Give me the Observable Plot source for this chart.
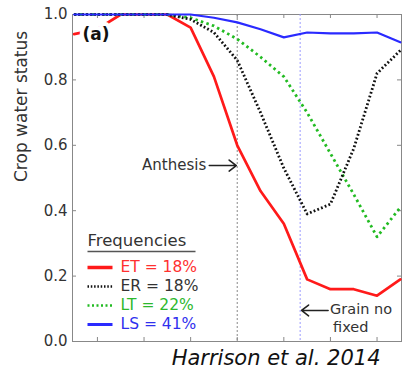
<!DOCTYPE html>
<html><head><meta charset="utf-8">
<script src="https://cdn.jsdelivr.net/npm/d3@7"></script>
<script src="https://cdn.jsdelivr.net/npm/@observablehq/plot@0.6"></script>
<style>body{margin:0;background:#fff} svg{display:block}</style>
</head><body><div id="chart"></div>
<script>
// ---- data ----
const steps = [0,1,2,3,4,5,6,7,8,9,10,11,12,13,14];
const ET = [0.94,0.955,1.0,1.0,1.0,0.96,0.81,0.60,0.46,0.36,0.19,0.16,0.16,0.14,0.19];
const ER = [1.0,1.0,1.0,1.0,1.0,0.985,0.945,0.86,0.70,0.53,0.39,0.42,0.59,0.82,0.89];
const LT = [1.0,1.0,1.0,1.0,1.0,0.99,0.965,0.925,0.87,0.81,0.70,0.575,0.45,0.32,0.41];
const LS = [1.0,1.0,1.0,1.0,1.0,1.0,0.99,0.976,0.955,0.93,0.945,0.942,0.942,0.945,0.915];
const seriesNames = ["ET","ER","LT","LS"];
const frequencies = ["18%","18%","22%","41%"];
const yTicks = [0,0.2,0.4,0.6,0.8,1.0];
const xTicks = [1,3,5,7,9,11,13];
const anthesis = {text:"Anthesis", step:7, from:5.8, y:0.538};
const grain = {lines:["Grain no","fixed"], step:9.7, from:10.9, y:0.095};

// ---- styles ----
const styles = {
  ET:{stroke:"#ff1a1a", strokeWidth:2.7, dash:null, text:"#ff3030", lw:3.5},
  ER:{stroke:"#111111", strokeWidth:2.8, dash:"1.8,2.2", text:"#333333", lw:2.5},
  LT:{stroke:"#22bb22", strokeWidth:2.8, dash:"2.5,3.3", text:"#2db82d", lw:2.5},
  LS:{stroke:"#2a2aff", strokeWidth:2.2, dash:null, text:"#3030ee", lw:3}
};
const values = {ET, ER, LT, LS};
const rows = seriesNames.flatMap(name => steps.map((s,i) => ({series:name, step:s, value:values[name][i]})));

const X_DOMAIN = [-0.07, 14.05];
const ML = 72, MR = 2, W = 403;
const px2x = p => X_DOMAIN[0] + (p - ML) / (W - ML - MR) * (X_DOMAIN[1] - X_DOMAIN[0]);
const MT = 14, MB = 41, H = 382;
const py2y = p => (H - MB - p) / (H - MB - MT);

// legend layout (pixels)
const legX1 = px2x(87), legX2 = px2x(112), legTextX = px2x(120);
const legRows = seriesNames.map((name,i) => ({name, label:`${name} = ${frequencies[i]}`, y:py2y(267 + i*19)}));

const lineOrder = ["ET","LT","ER","LS"];

const plot = Plot.plot({
  width: W, height: H, marginLeft: ML, marginRight: MR, marginTop: MT, marginBottom: MB,
  style: {fontFamily: "DejaVu Sans, sans-serif", background: "#fff", overflow: "visible"},
  x: {domain: X_DOMAIN, axis: null},
  y: {domain: [0, 1], axis: null},
  marks: [
    Plot.frame({stroke: "#888"}),
    Plot.tickY(yTicks, {y: d => d, stroke: "#888", insetRight: 325}),
    Plot.tickY(yTicks, {y: d => d, stroke: "#888", insetLeft: 325}),
    Plot.tickX(xTicks, {x: d => d, stroke: "#888", insetTop: 323}),
    Plot.tickX(xTicks, {x: d => d, stroke: "#888", insetBottom: 323}),
    Plot.axisY(yTicks, {tickSize: 0, tickPadding: 5, tickFormat: d3.format(".1f"), fontSize: 15, color: "#333", label: null}),
    Plot.text(["Crop water status"], {frameAnchor: "left", rotate: -90, dx: -51, dy: 4, fontSize: 17, fill: "#333"}),
    Plot.ruleX([anthesis], {x: "step", stroke: "#888", strokeDasharray: "2,2"}),
    Plot.ruleX([grain], {x: "step", stroke: "#9a9aff", strokeDasharray: "2,2"}),
    ...lineOrder.map(name => Plot.line(rows.filter(d => d.series === name), {
      x: "step", y: "value", stroke: styles[name].stroke, strokeWidth: styles[name].strokeWidth,
      strokeDasharray: styles[name].dash, strokeLinejoin: "round", strokeLinecap: styles[name].dash ? "butt" : "round"
    })),
    Plot.text(["(a)"], {frameAnchor: "top-left", dx: 10, dy: 20, textAnchor: "start", lineAnchor: "middle", fontWeight: "bold", fontSize: 17, fill: "#111", stroke: "white", strokeWidth: 8}),
    // annotations
    Plot.arrow([anthesis], {x1: "from", x2: d => d.step - 0.04, y1: "y", y2: "y", stroke: "#222", strokeWidth: 1.6, headLength: 9, headAngle: 75}),
    Plot.text([anthesis], {x: "from", y: "y", text: "text", textAnchor: "end", dx: -3, fontSize: 15, fill: "#333"}),
    Plot.arrow([grain], {x1: "from", x2: d => d.step + 0.06, y1: "y", y2: "y", stroke: "#222", strokeWidth: 1.6, headLength: 9, headAngle: 75}),
    Plot.text([grain], {x: "from", y: "y", text: d => d.lines[0], textAnchor: "start", dx: 2, dy: -1, fontSize: 14.5, fill: "#333"}),
    Plot.text([grain], {x: "from", y: "y", text: d => d.lines[1], textAnchor: "start", dx: 5, dy: 16.5, fontSize: 14.5, fill: "#333"}),
    // legend
    Plot.text(["Frequencies"], {x: () => legX1, y: () => py2y(240), text: d => d, textAnchor: "start", fontSize: 16.5, fill: "#333"}),
    Plot.link([0], {x1: () => legX1, x2: () => px2x(195), y1: () => py2y(251), y2: () => py2y(251), stroke: "#555", strokeWidth: 1.5}),
    ...legRows.map(r => Plot.link([r], {x1: () => legX1, x2: () => legX2, y1: "y", y2: "y",
      stroke: styles[r.name].stroke, strokeWidth: styles[r.name].lw, strokeLinecap: "butt",
      strokeDasharray: styles[r.name].dash ? (r.name === "ER" ? "1.5,1.8" : "2,2.5") : null})),
    Plot.text(legRows, {x: () => legTextX, y: "y", text: "label", textAnchor: "start", fontSize: 15.5, fill: d => styles[d.name].text}),
    // caption
    Plot.text(["Harrison et al. 2014"], {frameAnchor: "bottom-right", dx: -21, dy: 23, textAnchor: "end", fontSize: 21, fontStyle: "italic", fill: "#111"})
  ]
});
document.getElementById("chart").appendChild(plot);
</script>
</body></html>
